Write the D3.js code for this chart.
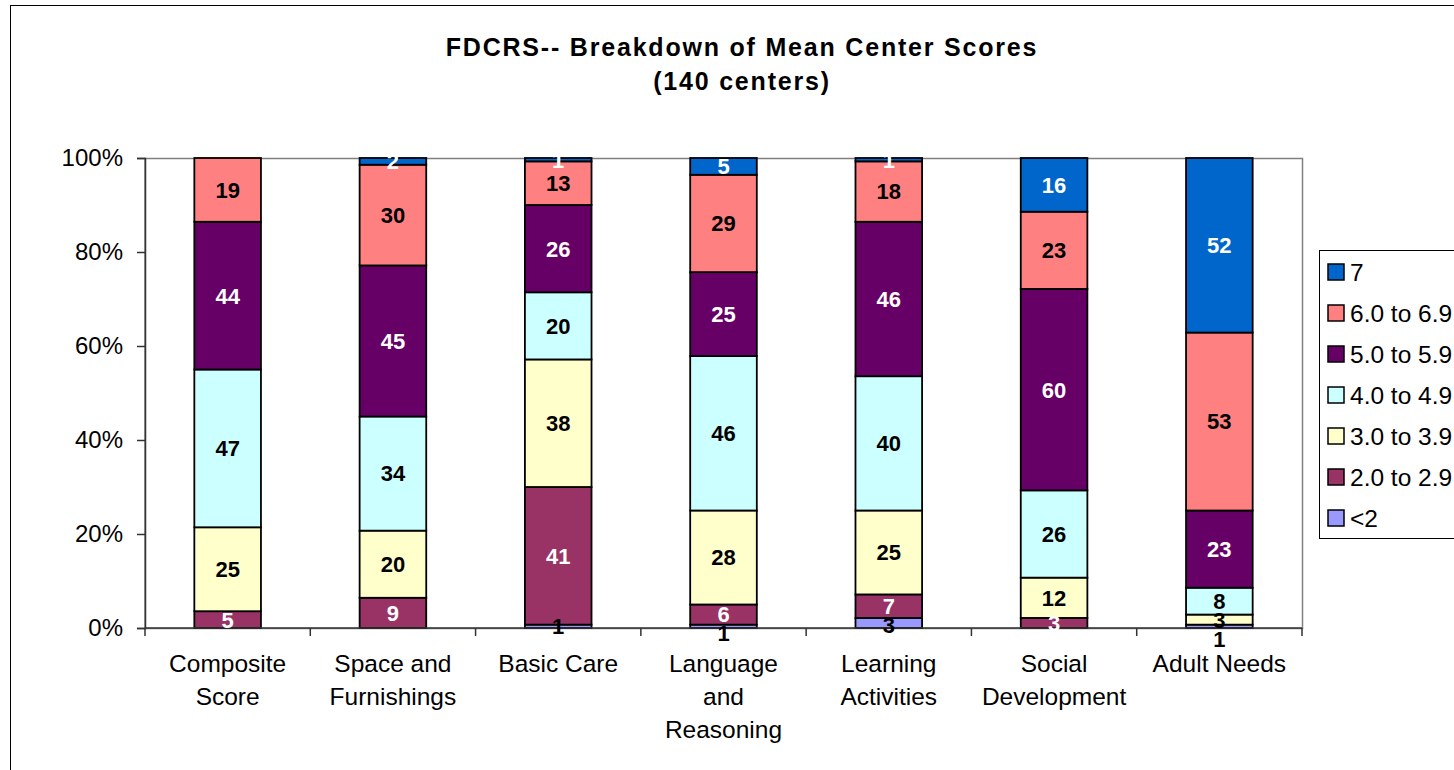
<!DOCTYPE html>
<html>
<head>
<meta charset="utf-8">
<script src="https://cdn.jsdelivr.net/npm/d3@7"></script>
<style>
  body { margin: 0; background: #fff; }
  text { font-family: "Liberation Sans", Arial, sans-serif; }
</style>
</head>
<body>
<svg id="chart"></svg>
<script>
// categories and label line breaks
var categories = ["Composite Score", "Space and Furnishings", "Basic Care",
    "Language and Reasoning", "Learning Activities", "Social Development", "Adult Needs"];
var categoryLines = [["Composite", "Score"], ["Space and", "Furnishings"], ["Basic Care"],
    ["Language", "and", "Reasoning"], ["Learning", "Activities"], ["Social", "Development"], ["Adult Needs"]];

// number of centers in each score band (140 centers)
var seriesNames = ["<2", "2.0 to 2.9", "3.0 to 3.9", "4.0 to 4.9", "5.0 to 5.9", "6.0 to 6.9", "7"];
var under2   = [0, 0, 1, 1, 3, 0, 1];
var band2    = [5, 9, 41, 6, 7, 3, 0];
var band3    = [25, 20, 38, 28, 25, 12, 3];
var band4    = [47, 34, 20, 46, 40, 26, 8];
var band5    = [44, 45, 26, 25, 46, 60, 23];
var band6    = [19, 30, 13, 29, 18, 23, 53];
var band7    = [0, 2, 1, 5, 1, 16, 52];
var yTicks = [0, 0.2, 0.4, 0.6, 0.8, 1];

var colors = ["#9999FF", "#993366", "#FFFFCC", "#CCFFFF", "#660066", "#FF8080", "#0066CC"];
var labelColors = ["#000", "#fff", "#000", "#000", "#fff", "#000", "#fff"];

var seriesValues = [under2, band2, band3, band4, band5, band6, band7];
var rows = categories.map(function(c, i) {
    var r = {cat: c};
    seriesNames.forEach(function(s, k) { r[s] = seriesValues[k][i]; });
    return r;
});

var W = 1454, H = 770;
var margin = {top: 158, right: 152, bottom: 142, left: 145};
var width = W - margin.left - margin.right;
var height = H - margin.top - margin.bottom;

var root = d3.select("#chart").attr("width", W).attr("height", H);

// outer chart frame
root.append("rect")
    .attr("x", 10.5).attr("y", 5.5)
    .attr("width", W + 20).attr("height", H + 20)
    .attr("fill", "none").attr("stroke", "#000").attr("stroke-width", 1);

// title
root.append("text")
    .attr("x", 742).attr("y", 56)
    .attr("text-anchor", "middle")
    .style("font-size", "25px").style("font-weight", "bold").style("letter-spacing", "1.8px")
    .text("FDCRS-- Breakdown of Mean Center Scores");
root.append("text")
    .attr("x", 742).attr("y", 90)
    .attr("text-anchor", "middle")
    .style("font-size", "25px").style("font-weight", "bold").style("letter-spacing", "1.8px")
    .text("(140 centers)");

var svg = root.append("g")
    .attr("transform", "translate(" + margin.left + "," + margin.top + ")");

var xScale = d3.scaleBand()
    .domain(categories)
    .range([0, width])
    .paddingInner(0.597)
    .paddingOuter(0.2985);

var yScale = d3.scaleLinear()
    .domain([0, 1])
    .range([height, 0]);

// plot area border (gray)
svg.append("rect")
    .attr("x", 0).attr("y", 0.5)
    .attr("width", width + 0.5).attr("height", height)
    .attr("fill", "none").attr("stroke", "#808080").attr("stroke-width", 1.5);

var stack = d3.stack()
    .keys(seriesNames)
    .offset(d3.stackOffsetExpand);
var layers = stack(rows);

var groups = svg.selectAll(".layer")
    .data(layers)
    .enter().append("g")
    .attr("class", "layer")
    .attr("fill", function(d, i) { return colors[i]; });

groups.selectAll("rect")
    .data(function(d) { return d.filter(function(p) { return p[1] - p[0] > 0; }); })
    .enter().append("rect")
    .attr("x", function(d) { return xScale(d.data.cat); })
    .attr("y", function(d) { return yScale(d[1]); })
    .attr("width", xScale.bandwidth())
    .attr("height", function(d) { return yScale(d[0]) - yScale(d[1]); })
    .attr("stroke", "#000")
    .attr("stroke-width", 1.8);

// y axis
svg.append("g")
    .call(d3.axisLeft(yScale)
        .tickValues(yTicks)
        .tickFormat(d3.format(".0%"))
        .tickSize(8)
        .tickPadding(14))
    .call(function(g) {
        g.select(".domain").attr("stroke", "#333").attr("stroke-width", 1.5);
        g.selectAll(".tick line").attr("stroke", "#333").attr("stroke-width", 1.5);
        g.selectAll(".tick text").style("font-size", "24px").attr("fill", "#000")
            .style("font-family", "'Liberation Sans', Arial, sans-serif");
    });

// x axis with ticks between categories
var xAxis = svg.append("g").attr("transform", "translate(0," + height + ")");
xAxis.append("line")
    .attr("x1", 0).attr("x2", width)
    .attr("stroke", "#333").attr("stroke-width", 1.5);
var step = xScale.step();
xAxis.selectAll(".sep")
    .data(d3.range(categories.length + 1))
    .enter().append("line")
    .attr("x1", function(i) { return i * step; })
    .attr("x2", function(i) { return i * step; })
    .attr("y1", 0).attr("y2", 8)
    .attr("stroke", "#333").attr("stroke-width", 1.5);

xAxis.selectAll(".cat")
    .data(categories)
    .enter().append("text")
    .attr("text-anchor", "middle")
    .style("font-size", "24.5px")
    .each(function(c, i) {
        var t = d3.select(this);
        categoryLines[i].forEach(function(line, j) {
            t.append("tspan")
                .attr("x", xScale(c) + xScale.bandwidth() / 2)
                .attr("y", 44 + j * 33)
                .text(line);
        });
    });

// data labels: centred in each segment, crowded small ones pushed downward
var labels = [];
layers.forEach(function(layer, k) {
    layer.forEach(function(p, i) {
        if (p.data[layer.key] > 0) {
            labels.push({k: k, i: i, cat: p.data.cat, value: p.data[layer.key],
                y: (yScale(p[0]) + yScale(p[1])) / 2});
        }
    });
});
categories.forEach(function(c, i) {
    var col = labels.filter(function(l) { return l.i === i; })
        .sort(function(a, b) { return a.y - b.y; });
    for (var j = 1; j < col.length; j++) {
        if (col[j].y - col[j - 1].y < 19) col[j].y = col[j - 1].y + 19;
    }
});

svg.selectAll(".lbl")
    .data(labels)
    .enter().append("text")
    .attr("class", "lbl")
    .attr("x", function(d) { return xScale(d.cat) + xScale.bandwidth() / 2; })
    .attr("y", function(d) { return d.y; })
    .attr("dy", "0.36em")
    .attr("text-anchor", "middle")
    .attr("fill", function(d) { return labelColors[d.k]; })
    .style("font-size", "22px")
    .style("font-weight", "bold")
    .text(function(d) { return d.value; });

// legend
var legend = root.append("g").attr("transform", "translate(1319,250)");
legend.append("rect")
    .attr("x", 0.5).attr("y", 0.5)
    .attr("width", 200).attr("height", 288)
    .attr("fill", "#fff").attr("stroke", "#000").attr("stroke-width", 1);

var legendItems = legend.selectAll(".item")
    .data(seriesNames.slice().reverse())
    .enter().append("g")
    .attr("transform", function(d, i) { return "translate(9," + (22 + i * 41) + ")"; });
legendItems.append("rect")
    .attr("x", 0).attr("y", -8)
    .attr("width", 16).attr("height", 16)
    .attr("fill", function(d) { return colors[seriesNames.indexOf(d)]; })
    .attr("stroke", "#000").attr("stroke-width", 1.5);
legendItems.append("text")
    .attr("x", 22).attr("y", 0)
    .attr("dy", "0.36em")
    .style("font-size", "24.5px")
    .text(function(d) { return d; });
</script>
</body>
</html>
